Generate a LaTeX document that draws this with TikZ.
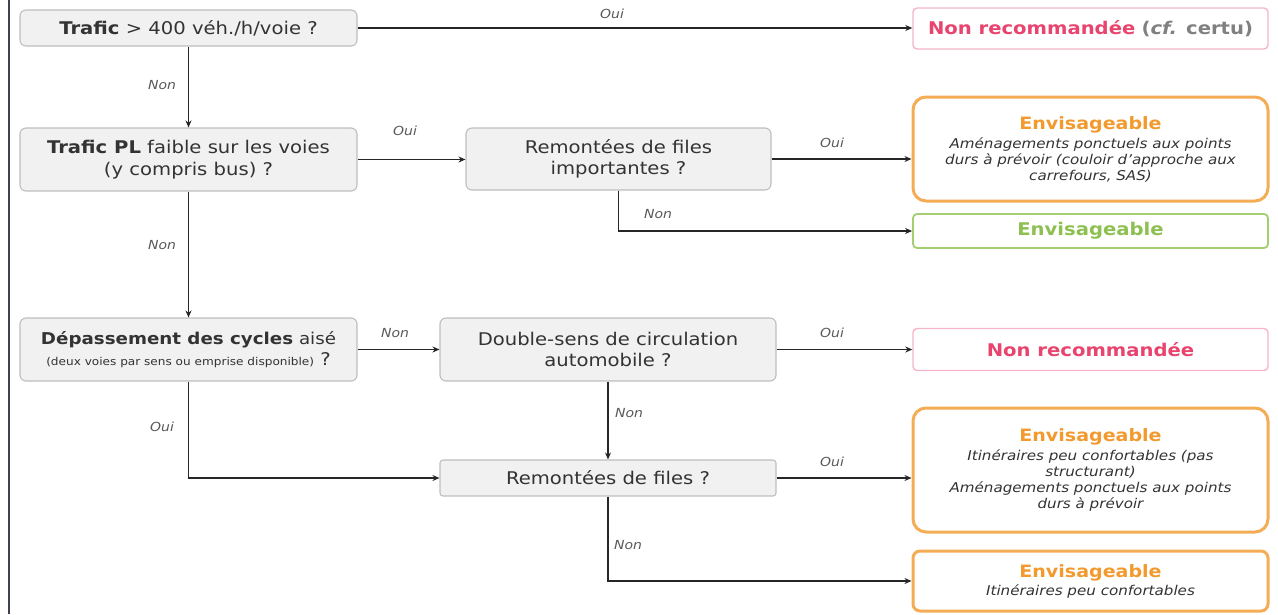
\documentclass[tikz,border=0pt]{standalone}
\usepackage{fontspec}
\setmainfont{DejaVu Sans}[FakeStretch=1.12]
\usetikzlibrary{arrows.meta}
\definecolor{pinkt}{HTML}{E8446E}
\definecolor{pinkb}{HTML}{F5B5C6}
\definecolor{orat}{HTML}{F29A2E}
\definecolor{orab}{HTML}{F4AC55}
\definecolor{greent}{HTML}{8DC050}
\definecolor{greenb}{HTML}{A3CE72}
\definecolor{boxfill}{HTML}{F1F1F1}
\definecolor{boxline}{HTML}{BEBEBE}
\definecolor{txt}{HTML}{333333}
\definecolor{leftbar}{HTML}{3C4250}
\newcommand{\mainfs}{\fontsize{17.5}{21.5}\selectfont}
\newcommand{\itfs}{\fontsize{13.5}{16}\selectfont\itshape}
\newcommand{\envtitle}{{\fontsize{17}{18}\selectfont\upshape\bfseries\color{orat}Envisageable}}
\begin{document}
\begin{tikzpicture}[x=1pt,y=-1pt,
  qbox/.style={draw=boxline, fill=boxfill, line width=1.1pt, rounded corners=6pt,
    align=center, text=txt, font=\mainfs, inner sep=0pt},
  rbox/.style={fill=white, align=center, inner sep=0pt, minimum width=355pt, text=txt},
  conn/.style={-{Stealth[length=7pt,width=6pt]}, line width=1.3pt, draw=black!85},
  lab/.style={font=\fontsize{12.5}{14}\selectfont\itshape, text=black!65, inner sep=0pt}]
\useasboundingbox (0,0) rectangle (1278,614);
\draw[line width=2.2pt, leftbar] (9,0) -- (9,614);

% question nodes
\node[qbox, minimum width=337pt, minimum height=36pt] (n1) at (188.5,28)
  {\textbf{Trafic} > 400 véh./h/voie ?};
\node[qbox, minimum width=337pt, minimum height=63pt] (n2) at (188.5,159.5)
  {\textbf{Trafic PL} faible sur les voies\\(y compris bus) ?};
\node[qbox, minimum width=337pt, minimum height=63pt] (n3) at (188.5,349.5)
  {{\fontsize{16.3}{20}\selectfont\textbf{Dépassement des cycles} aisé}\\[-1pt]{\fontsize{10.8}{12}\selectfont (deux voies par sens ou emprise disponible)} ?};
\node[qbox, minimum width=305pt, minimum height=62pt] (n4) at (618.5,159)
  {Remontées de files\\importantes ?};
\node[qbox, minimum width=336pt, minimum height=63pt] (n5) at (608,349.5)
  {Double-sens de circulation\\automobile ?};
\node[qbox, minimum width=336pt, minimum height=36pt, rounded corners=3pt] (n6) at (608,478)
  {Remontées de files ?};

% result nodes
\node[rbox, draw=pinkb, line width=1.4pt, rounded corners=4pt, minimum height=41pt, font=\mainfs] (r1) at (1090.5,28.5)
  {\textbf{\textcolor{pinkt}{Non recommandée}} \textbf{\textcolor{gray}{(\textit{cf.} certu)}}};
\node[rbox, draw=orab, line width=3pt, rounded corners=13pt, minimum height=104pt, font=\itfs] (r2) at (1090.5,149)
  {\envtitle\\[3pt]Aménagements ponctuels aux points\\durs à prévoir (couloir d'approche aux\\carrefours, SAS)};
\node[rbox, draw=greenb, line width=1.8pt, rounded corners=4pt, minimum height=34pt, font=\mainfs] (r3) at (1090.5,231)
  {\textbf{\textcolor{greent}{Envisageable}}};
\node[rbox, draw=pinkb, line width=1.4pt, rounded corners=4pt, minimum height=42pt, font=\mainfs] (r4) at (1090.5,349.5)
  {\textbf{\textcolor{pinkt}{Non recommandée}}};
\node[rbox, draw=orab, line width=3pt, rounded corners=13pt, minimum height=124pt, font=\itfs] (r5) at (1090.5,470)
  {\envtitle\\[3pt]Itinéraires peu confortables (pas\\structurant)\\Aménagements ponctuels aux points\\durs à prévoir};
\node[rbox, draw=orab, line width=3pt, rounded corners=7pt, minimum height=60pt, font=\itfs] (r6) at (1090.5,581)
  {\envtitle\\[2pt]Itinéraires peu confortables};

% connectors
\draw[conn] (n1.east) -- (n1.east -| r1.west);
\draw[conn] (n1.south) -- (n2.north);
\draw[conn] (n2.east) -- (n2.east -| n4.west);
\draw[conn] (n4.east) -- (n4.east -| r2.west);
\draw[conn] (n4.south) |- (r3.west);
\draw[conn] (n2.south) -- (n3.north);
\draw[conn] (n3.east) -- (n3.east -| n5.west);
\draw[conn] (n5.east) -- (n5.east -| r4.west);
\draw[conn] (n5.south) -- (n6.north);
\draw[conn] (n3.south) |- (n6.west);
\draw[conn] (n6.east) -- (n6.east -| r5.west);
\draw[conn] (n6.south) |- (r6.west);

% labels
\node[lab] (l1) at (612,14) {Oui};
\node[lab] (l2) at (162,85) {Non};
\node[lab] (l3) at (405,131) {Oui};
\node[lab] (l4) at (832,143) {Oui};
\node[lab] (l5) at (658,214) {Non};
\node[lab] (l6) at (162,245) {Non};
\node[lab] (l7) at (395,333) {Non};
\node[lab] (l8) at (832,333) {Oui};
\node[lab] (l9) at (629,413) {Non};
\node[lab] (l10) at (162,427) {Oui};
\node[lab] (l11) at (832,462) {Oui};
\node[lab] (l12) at (628,545) {Non};
\end{tikzpicture}
\end{document}
